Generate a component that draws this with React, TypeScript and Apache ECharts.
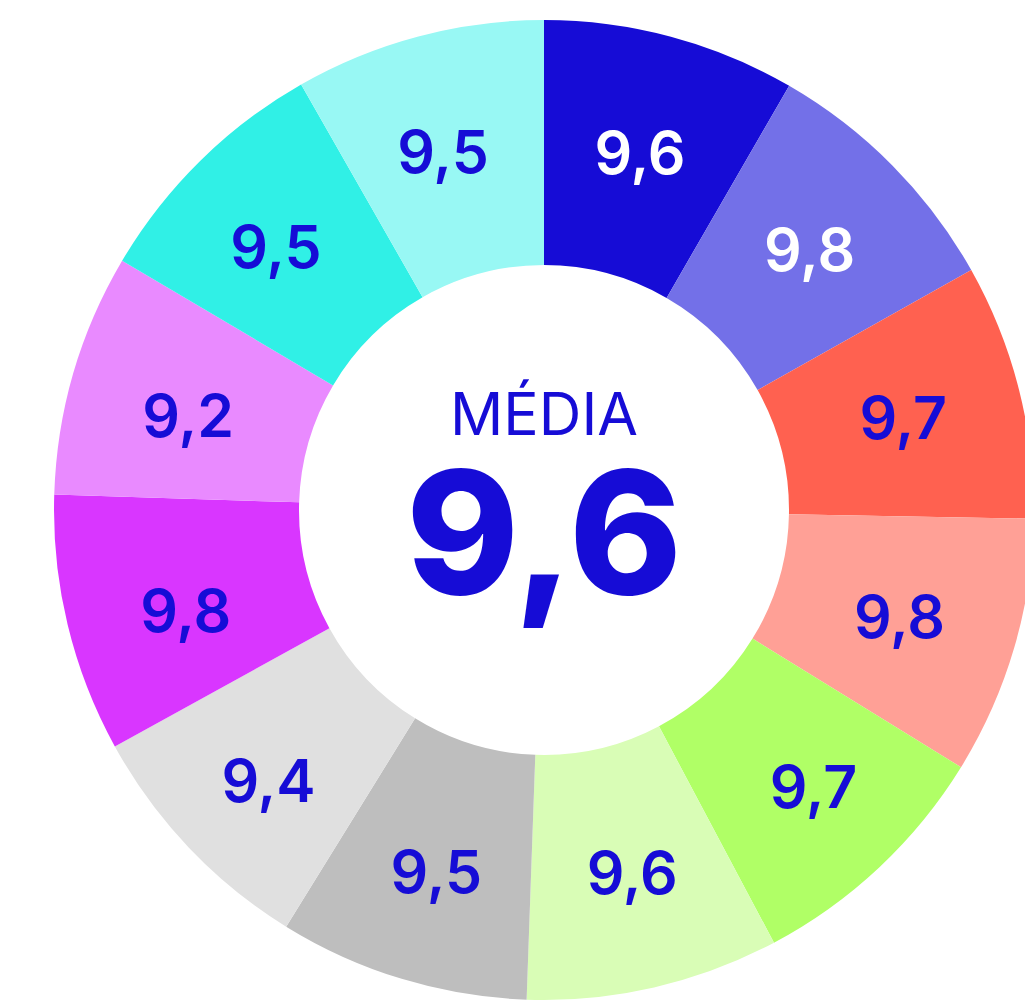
import React, { useEffect, useRef } from "react";
import * as echarts from "echarts";

const values = [9.6, 9.8, 9.7, 9.8, 9.7, 9.6, 9.5, 9.4, 9.8, 9.2, 9.5, 9.5];
const colors = ["#160CD6", "#7370E8", "#FF6150", "#FFA096", "#B0FF66", "#D9FDB6", "#BEBEBE", "#E0E0E0", "#D936FF", "#E98AFF", "#30F0E6", "#98F8F4"];
const labelColors = ["#FFFFFF", "#FFFFFF", "#160CD6", "#160CD6", "#160CD6", "#160CD6", "#160CD6", "#160CD6", "#160CD6", "#160CD6", "#160CD6", "#160CD6"];
const labelOffsets = [[0, 0], [2, 0], [0, -2], [0, 2], [16, 6], [5, 1], [0, 7], [-7, 15], [2, 14], [0, 9], [-8, 0], [-6, 0]];
const centerTitle = "MÉDIA";
const average = 9.6;

const fmt = (v: number) => v.toFixed(1).replace(".", ",");

export default function App() {
  const ref = useRef<HTMLDivElement>(null);
  useEffect(() => {
    const chart = echarts.init(ref.current!, undefined, { renderer: "svg" });
    chart.setOption({
      animation: false,
      backgroundColor: "#FFFFFF",
      series: [
        {
          type: "pie",
          center: [544, 510],
          radius: [245, 490],
          startAngle: 90,
          clockwise: true,
          avoidLabelOverlap: false,
          labelLine: { show: false },
          data: values.map((v, i) => ({
            value: v,
            itemStyle: { color: colors[i] },
            label: { color: labelColors[i], offset: labelOffsets[i] },
          })),
          label: {
            show: true,
            position: "inside",
            formatter: (p: any) => fmt(p.value),
            fontFamily: "Inter",
            fontWeight: 600,
            fontSize: 59,
          },
          emphasis: { disabled: true },
        },
      ],
      graphic: [
        {
          type: "text",
          x: 544,
          y: 413,
          style: {
            text: centerTitle,
            fontFamily: "Inter",
            fontWeight: 400,
            fontSize: 59,
            lineHeight: 48,
            fill: "#160CD6",
            align: "center",
            verticalAlign: "middle",
          },
        },
        {
          type: "text",
          x: 544,
          y: 531,
          style: {
            text: fmt(average),
            fontFamily: "Inter",
            fontWeight: 800,
            fontSize: 171,
            lineHeight: 140,
            fill: "#160CD6",
            align: "center",
            verticalAlign: "middle",
          },
        },
      ],
    });
    return () => chart.dispose();
  }, []);
  return (
    <div
      ref={ref}
      style={{ position: "absolute", left: 0, top: 0, width: 1025, height: 1008 }}
    />
  );
}
